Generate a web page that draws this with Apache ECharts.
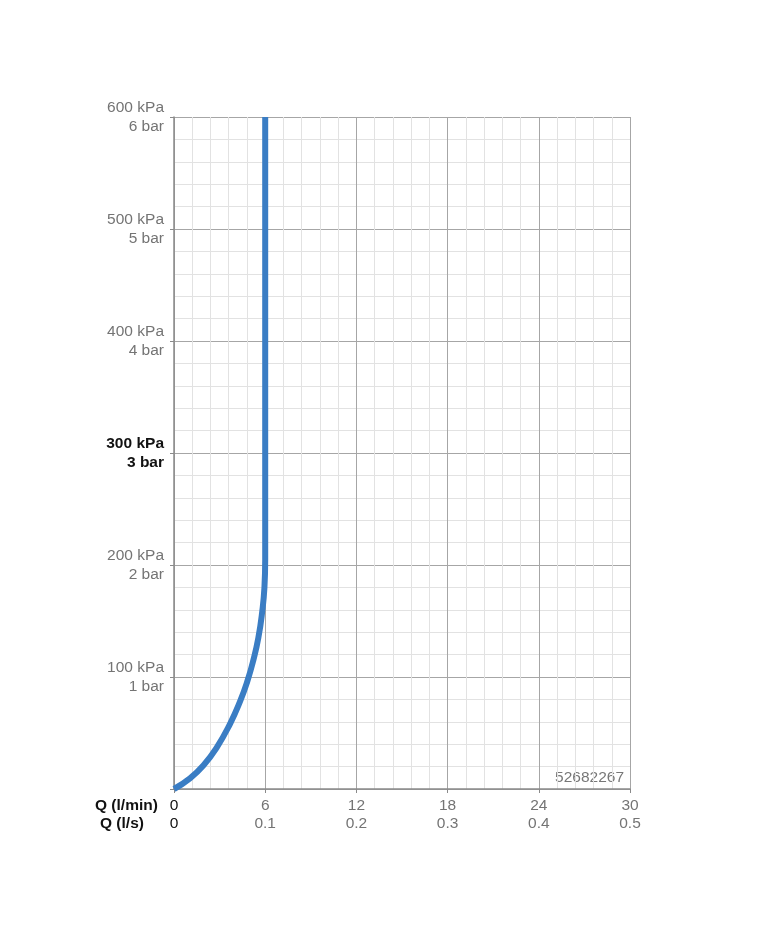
<!DOCTYPE html>
<html><head><meta charset="utf-8">
<script src="https://cdn.jsdelivr.net/npm/echarts@6/dist/echarts.min.js"></script>
<style>html,body{margin:0;padding:0;background:#fff}#c{width:760px;height:935px}</style>
</head><body><div id="c"></div>
<script>
// Tick labels
const xTicksLmin = ['0','6','12','18','24','30'];
const xTicksLs = ['0','0.1','0.2','0.3','0.4','0.5'];
const yTicksKpa = ['', '100 kPa', '200 kPa', '300 kPa', '400 kPa', '500 kPa', '600 kPa'];
const yTicksBar = ['', '1 bar', '2 bar', '3 bar', '4 bar', '5 bar', '6 bar'];
// Curve: flow Q (l/min) vs pressure (kPa)
const flowLmin = [0, 1.05, 1.93, 2.81, 3.68, 4.34, 4.82, 5.22, 5.55, 5.8, 5.95, 6.0, 6.0];
const pressureKpa = [0, 9.5, 21, 37, 58, 78, 96, 115, 135, 158, 180, 205, 600];
const productCode = '52682267';

const chart = echarts.init(document.getElementById('c'));
const font = 'Liberation Sans, Arial, sans-serif';
const grey = '#747474';
const fs = 15.5;
chart.setOption({
  animation: false,
  grid: {left: 174, right: 130, top: 117, bottom: 146, containLabel: false},
  xAxis: {
    type: 'value', min: 0, max: 30, interval: 6,
    axisLine: {show: true, lineStyle: {color: '#8a8a8a', width: 1.5}},
    axisTick: {show: true, length: 4, lineStyle: {color: '#8a8a8a'}},
    minorTick: {show: false, splitNumber: 5},
    splitLine: {show: true, lineStyle: {color: '#a6a6a6', width: 1}},
    minorSplitLine: {show: true, lineStyle: {color: '#e2e2e2', width: 1}},
    axisLabel: {
      margin: 8, fontFamily: font, fontSize: fs, color: grey, lineHeight: 18,
      formatter: function (v) {
        const i = Math.round(v / 6);
        const s = i === 0 ? 'z' : 'g';
        return '{' + s + '|' + xTicksLmin[i] + '}\n{' + s + '|' + xTicksLs[i] + '}';
      },
      rich: {
        g: {fontFamily: font, fontSize: fs, color: grey, lineHeight: 18},
        z: {fontFamily: font, fontSize: fs, color: '#111', lineHeight: 18}
      }
    }
  },
  yAxis: {
    type: 'value', min: 0, max: 600, interval: 100,
    axisLine: {show: true, lineStyle: {color: '#8a8a8a', width: 1.5}},
    axisTick: {show: true, length: 4, lineStyle: {color: '#8a8a8a'}},
    minorTick: {show: false, splitNumber: 5},
    splitLine: {show: true, lineStyle: {color: '#a6a6a6', width: 1}},
    minorSplitLine: {show: true, lineStyle: {color: '#e2e2e2', width: 1}},
    axisLabel: {
      margin: 10, fontFamily: font, fontSize: fs, color: grey, lineHeight: 19, align: 'right',
      formatter: function (v) {
        const i = Math.round(v / 100);
        if (!yTicksKpa[i]) return '';
        const s = i === 3 ? 'b' : 'g';
        return '{' + s + '|' + yTicksKpa[i] + '}\n{' + s + '|' + yTicksBar[i] + '}';
      },
      rich: {
        g: {fontFamily: font, fontSize: fs, color: grey, lineHeight: 19, align: 'right'},
        b: {fontFamily: font, fontSize: fs, color: '#111', fontWeight: 'bold', lineHeight: 19, align: 'right'}
      }
    }
  },
  series: [{
    type: 'line',
    data: flowLmin.map((x, i) => [x, pressureKpa[i]]),
    smooth: 0.5,
    showSymbol: false,
    lineStyle: {color: '#3a7dc4', width: 6, cap: 'butt'},
    z: 5
  }],
  graphic: [
    {type: 'text', right: 136, top: 770, style: {text: productCode, font: fs + 'px ' + font, fill: '#777'}},
    {type: 'text', left: 95, top: 798, style: {text: 'Q (l/min)', font: 'bold ' + fs + 'px ' + font, fill: '#111'}},
    {type: 'text', left: 100, top: 816, style: {text: 'Q (l/s)', font: 'bold ' + fs + 'px ' + font, fill: '#111'}}
  ]
});
</script></body></html>
